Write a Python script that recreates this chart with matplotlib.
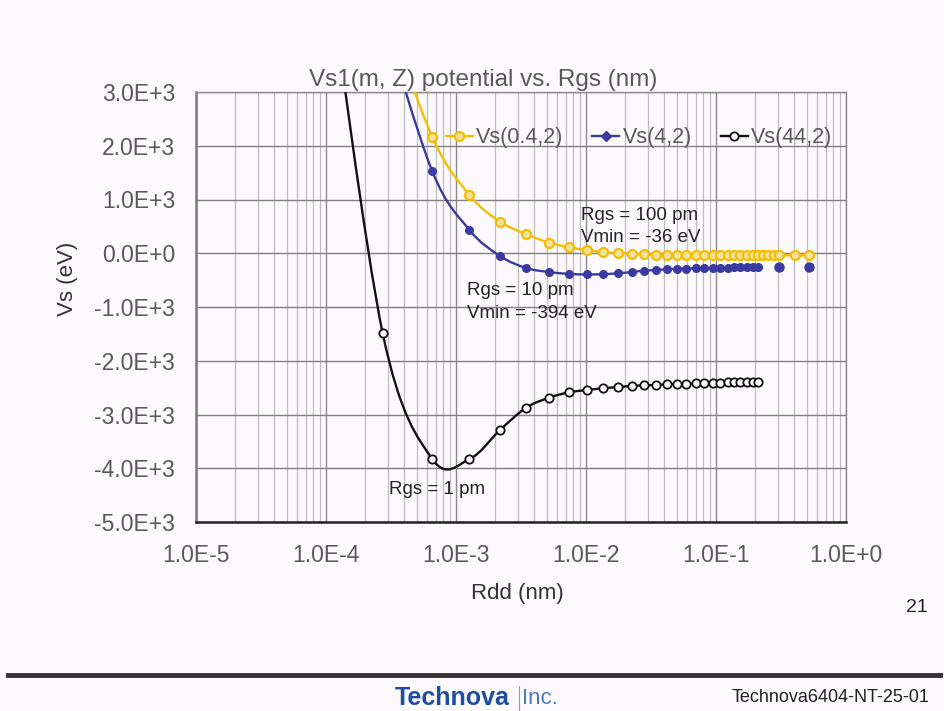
import numpy as np
import matplotlib
matplotlib.use('Agg')
import matplotlib.pyplot as plt
from matplotlib.path import Path
from matplotlib.patches import PathPatch
from matplotlib.lines import Line2D
from matplotlib.ticker import LogLocator, MultipleLocator, FuncFormatter, NullFormatter

plt.rcParams['font.family'] = ['Liberation Sans', 'DejaVu Sans']

W, H = 944, 711
BG = '#fdfafd'
GRAY_TXT = '#595959'

# Rdd (nm) positions (first values lie above the plot top)
x_vals = [2.73e-4, 6.57e-4, 1.27e-3, 2.18e-3, 3.46e-3, 5.2e-3, 7.4e-3, 1.02e-2,
          1.35e-2, 1.76e-2, 2.26e-2, 2.79e-2, 3.45e-2, 4.18e-2, 4.99e-2, 5.88e-2,
          6.96e-2, 8.08e-2, 9.4e-2, 0.108, 0.123, 0.138, 0.154, 0.172, 0.191, 0.21]

# Vs(0.4,2) - yellow
x_y04 = x_vals + [0.228, 0.252, 0.278, 0.306, 0.405, 0.522]
v_y04 = [4700, 2163, 1084, 587, 358, 196, 111, 60, 23, 5, -8, -17, -24, -29, -32,
         -34, -35, -36, -36, -36, -36, -36, -36, -36, -36, -36,
         -36, -36, -36, -37, -38, -40]

# Vs(4,2) - blue (last two points are not joined by the line)
x_b4 = x_vals
v_b4 = [4400, 1525, 433, -51, -274, -349, -385, -394, -390, -373, -349, -325, -312,
        -299, -290, -285, -280, -275, -272, -268, -266, -264, -262, -260, -257, -255]
x_b4_extra = [0.307, 0.522]
v_b4_extra = [-255, -255]

# Vs(44,2) - black
x_k44 = [1.0e-4] + x_vals
v_k44 = [5600, -1489, -3828, -3828, -3288, -2874, -2688, -2587, -2544, -2513, -2488,
         -2470, -2457, -2451, -2438, -2432, -2427, -2420, -2414, -2408, -2405, -2402,
         -2400, -2397, -2395, -2392, -2390]


def smooth_path(xs, ys):
    # Excel style smoothed line: bezier segments through the points (log x space)
    pts = np.column_stack([np.log10(xs), np.asarray(ys, float)])
    n = len(pts)
    verts = [pts[0]]
    codes = [Path.MOVETO]
    for i in range(n - 1):
        p0 = pts[max(i - 1, 0)]
        p1 = pts[i]
        p2 = pts[i + 1]
        p3 = pts[min(i + 2, n - 1)]
        c1 = p1 + (p2 - p0) / 6.0
        c2 = p2 - (p3 - p1) / 6.0
        verts += [c1, c2, p2]
        codes += [Path.CURVE4] * 3
    verts = np.array(verts)
    verts[:, 0] = 10 ** verts[:, 0]
    return Path(verts, codes)


def fx(px):
    return px / W


def fy(py):
    return 1 - py / H


fig = plt.figure(figsize=(W / 100, H / 100), dpi=100, facecolor=BG)
ax = fig.add_axes([fx(196), fy(522), (846 - 196) / W, (522 - 92) / H])
ax.set_facecolor(BG)

ax.set_xscale('log')
ax.set_xlim(1e-5, 1)
ax.set_ylim(-5000, 3000)

ax.xaxis.set_major_locator(LogLocator(base=10, numticks=10))
ax.xaxis.set_minor_locator(LogLocator(base=10, subs=np.arange(2, 10), numticks=20))
ax.xaxis.set_minor_formatter(NullFormatter())
ax.yaxis.set_major_locator(MultipleLocator(1000))


def xfmt(v, pos):
    e = int(round(np.log10(v)))
    return "1.0E%+d" % e


def yfmt(v, pos):
    if abs(v) < 1e-9:
        return "0.0E+0"
    e = int(np.floor(np.log10(abs(v)) + 1e-9))
    return "%.1fE%+d" % (v / 10 ** e, e)


ax.xaxis.set_major_formatter(FuncFormatter(xfmt))
ax.yaxis.set_major_formatter(FuncFormatter(yfmt))

ax.grid(which='major', axis='y', color='#7f7f7f', lw=1.0)
ax.grid(which='major', axis='x', color='#8a8a8a', lw=1.0)
ax.grid(which='minor', axis='x', color='#bdbdbd', lw=0.9)
ax.set_axisbelow(True)

ax.tick_params(axis='both', which='both', length=0, labelsize=16.5, labelcolor=GRAY_TXT)
ax.tick_params(axis='x', pad=16)
ax.tick_params(axis='y', pad=15)

for s in ['top', 'right']:
    ax.spines[s].set_color('#8a8a8a')
    ax.spines[s].set_linewidth(1.0)
ax.spines['left'].set_color('#7a7a7a')
ax.spines['left'].set_linewidth(1.8)
ax.spines['bottom'].set_color('#222222')
ax.spines['bottom'].set_linewidth(1.8)

YEL = '#f5be00'
YEL_FACE = '#efe2a6'
BLU = '#3a3aa0'
BLK = '#111111'

# smoothed lines
for xs, vs, col in [(x_y04, v_y04, YEL), (x_b4, v_b4, BLU), (x_k44, v_k44, BLK)]:
    patch = PathPatch(smooth_path(xs, vs), fill=False, edgecolor=col, lw=1.7,
                      transform=ax.transData, zorder=3)
    ax.add_patch(patch)

# markers
ax.plot(x_y04, v_y04, ls='none', marker='o', ms=6.5, mfc=YEL_FACE, mec=YEL, mew=1.6, zorder=4)
ax.plot(x_b4, v_b4, ls='none', marker='o', ms=5.5, mfc=BLU, mec=BLU, zorder=4)
ax.plot(x_b4_extra, v_b4_extra, ls='none', marker='o', ms=6.5, mfc=BLU, mec=BLU, zorder=4)
ax.plot(x_k44, v_k44, ls='none', marker='o', ms=6, mfc='white', mec=BLK, mew=1.3, zorder=4)

handles = [
    Line2D([], [], color=YEL, lw=1.7, marker='o', ms=6.5, mfc=YEL_FACE, mec=YEL, mew=1.6),
    Line2D([], [], color=BLU, lw=1.7, marker='D', ms=5, mfc=BLU, mec=BLU),
    Line2D([], [], color=BLK, lw=1.7, marker='o', ms=6, mfc='white', mec=BLK, mew=1.3),
]
leg = ax.legend(handles, ['Vs(0.4,2)', 'Vs(4,2)', 'Vs(44,2)'], ncol=3, frameon=False,
                loc='center', bbox_to_anchor=((639 - 196) / 650, (522 - 138) / 430),
                fontsize=15.5, handlelength=1.25, handletextpad=0.15, columnspacing=1.35,
                borderpad=0, borderaxespad=0)
for t in leg.get_texts():
    t.set_color(GRAY_TXT)

# title and axis labels
fig.text(fx(483), fy(80), 'Vs1(m, Z) potential vs. Rgs (nm)', ha='center', va='center',
         fontsize=17.5, color=GRAY_TXT)
fig.text(fx(67), fy(279), 'Vs (eV)', rotation=90, ha='center', va='center',
         fontsize=16, color='#333333')
fig.text(fx(517), fy(593), 'Rdd (nm)', ha='center', va='center', fontsize=16, color='#333333')

# annotations
ann = dict(ha='left', va='center', fontsize=13.5, color='#222222')
fig.text(fx(581), fy(215), 'Rgs = 100 pm', **ann)
fig.text(fx(581), fy(238), 'Vmin = -36 eV', **ann)
fig.text(fx(467), fy(290), 'Rgs = 10 pm', **ann)
fig.text(fx(467), fy(313), 'Vmin = -394 eV', **ann)
fig.text(fx(389), fy(490), 'Rgs = 1 pm', **ann)

# slide footer
fig.text(fx(917), fy(607), '21', ha='center', va='center', fontsize=14, color='#222222')
fig.add_artist(Line2D([fx(8), fx(940)], [fy(675), fy(675)], transform=fig.transFigure,
                      color='#333333', lw=3.5))
fig.text(fx(395), fy(698), 'Technova', ha='left', va='center', fontsize=18,
         fontweight='bold', color='#1f4e9e')
fig.add_artist(Line2D([fx(519), fx(519)], [fy(686), fy(711)], transform=fig.transFigure,
                      color='#9a9a9a', lw=0.8))
fig.text(fx(522), fy(698), 'Inc.', ha='left', va='center', fontsize=16, color='#4a78c2')
fig.text(fx(930), fy(698), 'Technova6404-NT-25-01', ha='right', va='center',
         fontsize=13, color='#222222')

fig.savefig('out.png', dpi=100, facecolor=BG)
